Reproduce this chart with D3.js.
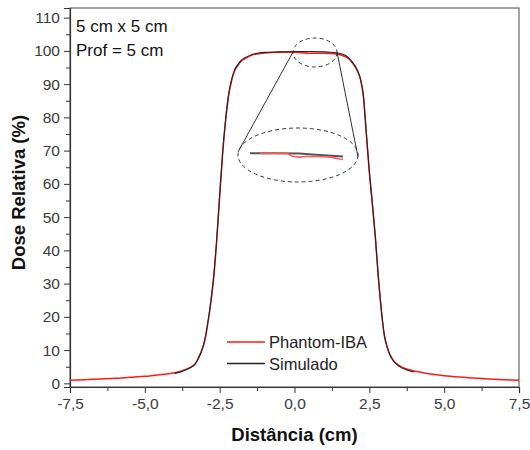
<!DOCTYPE html>
<html>
<head>
<meta charset="utf-8">
<script src="https://cdn.jsdelivr.net/npm/d3@7"></script>
<style>
  html, body { margin: 0; padding: 0; background: #fff; }
  svg { display: block; font-family: "Liberation Sans", Arial, sans-serif; }
</style>
</head>
<body>
<svg id="chart" width="530" height="450"></svg>
<script>
// Lateral dose profile, 5 cm x 5 cm field at 5 cm depth
const posMeasured = [-7.5, -7.0, -6.5, -6.0, -5.5, -5.0, -4.5, -4.0, -3.75, -3.5, -3.3, -3.2, -3.1, -3.0,
  -2.9, -2.8, -2.7, -2.6, -2.5, -2.4, -2.3, -2.2, -2.1, -2.0, -1.9, -1.8, -1.6, -1.4, -1.2, -1.0, -0.5,
  0.0, 0.5, 1.0, 1.2, 1.4, 1.6, 1.8, 1.9, 2.0, 2.1, 2.2, 2.3, 2.4, 2.5, 2.6, 2.7, 2.8, 2.9, 3.0,
  3.1, 3.2, 3.3, 3.5, 3.75, 4.0, 4.5, 5.0, 5.5, 6.0, 6.5, 7.0, 7.5];
const doseMeasured = [0.9, 1.1, 1.3, 1.5, 1.8, 2.1, 2.6, 3.2, 3.8, 4.7, 6.1, 7.8, 9.9, 12.8,
  17.8, 24.0, 31.8, 42.8, 56.3, 69.2, 79.2, 86.6, 91.1, 94.0, 95.5, 96.7, 97.9, 98.8, 99.15, 99.4, 99.6,
  99.6, 99.3, 99.3, 99.2, 99.0, 98.6, 97.7, 96.8, 95.6, 94.0, 91.5, 86.5, 75.0, 63.5, 54.0, 44.0, 32.0, 22.0, 14.5,
  10.8, 8.4, 6.9, 5.3, 4.3, 3.7, 2.9, 2.3, 1.9, 1.6, 1.3, 1.1, 0.9];

const posSimulated = [-4.0, -3.75, -3.5, -3.3, -3.2, -3.1, -3.0, -2.9, -2.8, -2.7, -2.6, -2.5, -2.4,
  -2.3, -2.2, -2.1, -2.0, -1.9, -1.8, -1.6, -1.4, -1.2, -1.0, -0.5, 0.0, 0.5, 1.0, 1.2, 1.4, 1.6, 1.8,
  1.9, 2.0, 2.1, 2.2, 2.3, 2.4, 2.5, 2.6, 2.7, 2.8, 2.9, 3.0, 3.1, 3.2, 3.3, 3.5, 3.75, 4.0];
const doseSimulated = [3.0, 3.6, 4.6, 6.0, 7.7, 9.8, 12.9, 18.0, 24.3, 32.2, 43.2, 56.6, 69.5,
  79.5, 86.9, 91.4, 94.3, 95.8, 97.0, 98.2, 99.0, 99.35, 99.55, 99.7, 99.8, 99.8, 99.7, 99.6, 99.4, 99.0, 98.0,
  97.0, 95.8, 94.2, 91.7, 86.7, 75.3, 63.8, 54.2, 44.2, 32.2, 22.2, 14.6, 10.8, 8.3, 6.8, 5.1, 4.0, 3.4];

// Magnified plateau (0 to 1.5 cm) shown in the detail ellipse
const zoomPosSim = [0.0, 0.4, 0.8, 1.0, 1.2, 1.5];
const zoomDoseSim = [99.8, 99.8, 99.78, 99.7, 99.62, 99.5];
const zoomPosMeas = [0.16, 0.3, 0.6, 0.68, 0.8, 0.9, 1.1, 1.3, 1.45, 1.5];
const zoomDoseMeas = [99.78, 99.78, 99.8, 99.52, 99.45, 99.5, 99.5, 99.45, 99.28, 99.24];

const xTicks = [-7.5, -5.0, -2.5, 0.0, 2.5, 5.0, 7.5];
const yTicks = [0, 10, 20, 30, 40, 50, 60, 70, 80, 90, 100, 110];
const seriesNames = ["Phantom-IBA", "Simulado"];
const seriesColors = ["#ff1a1a", "#222222"];
const annotation = ["5 cm x 5 cm", "Prof = 5 cm"];

const svg = d3.select("#chart");
const plotLeft = 70, plotRight = 519, plotTop = 8, plotBottom = 387;

const x = d3.scaleLinear().domain([-7.5, 7.5]).range([plotLeft, plotRight]);
const y = d3.scaleLinear().domain([-1.1, 112.9]).range([plotBottom, plotTop]);

const fmt = d => d3.format(".1f")(d).replace(".", ",").replace("−", "-");

// frame
svg.append("rect").attr("x", plotLeft).attr("y", plotTop)
  .attr("width", plotRight - plotLeft).attr("height", plotBottom - plotTop)
  .attr("fill", "none").attr("stroke", "#666").attr("stroke-width", 1.2);

// x axis
svg.append("g").attr("transform", `translate(0,${plotBottom})`)
  .call(d3.axisBottom(x).tickValues(xTicks).tickFormat(fmt).tickSize(6).tickPadding(5));
svg.append("g").attr("transform", `translate(0,${plotBottom})`)
  .call(d3.axisBottom(x).tickValues(d3.range(-6.25, 7.5, 2.5)).tickFormat("").tickSize(4))
  .select(".domain").remove();

// y axis
svg.append("g").attr("transform", `translate(${plotLeft},0)`)
  .call(d3.axisLeft(y).tickValues(yTicks).tickSize(6).tickPadding(4));
svg.append("g").attr("transform", `translate(${plotLeft},0)`)
  .call(d3.axisLeft(y).tickValues(d3.range(5, 110, 10)).tickFormat("").tickSize(4))
  .select(".domain").remove();

svg.selectAll(".domain").attr("stroke", "#333").attr("stroke-width", 1.2);
svg.selectAll(".tick line").attr("stroke", "#333").attr("stroke-width", 1);
svg.selectAll(".tick text").attr("fill", "#3a3a3a").style("font-size", "15.5px")
  .style("font-family", "Liberation Sans, Arial, sans-serif");

// axis titles
svg.append("text").attr("x", (plotLeft + plotRight) / 2).attr("y", 441)
  .attr("text-anchor", "middle").attr("font-weight", "bold").attr("font-size", 18.5)
  .attr("fill", "#111").text("Distância (cm)");
svg.append("text").attr("transform", `translate(25,${(plotTop + plotBottom) / 2 - 5}) rotate(-90)`)
  .attr("text-anchor", "middle").attr("font-weight", "bold").attr("font-size", 18.5)
  .attr("fill", "#111").text("Dose Relativa (%)");

// curves
const line = d3.line().x(d => x(d[0])).y(d => y(d[1])).curve(d3.curveMonotoneX);
const measured = posMeasured.map((p, i) => [p, doseMeasured[i]]);
const simulated = posSimulated.map((p, i) => [p, doseSimulated[i]]);

svg.append("path").datum(measured).attr("d", line)
  .attr("fill", "none").attr("stroke", seriesColors[0]).attr("stroke-width", 1.5);
svg.append("path").datum(simulated).attr("d", line)
  .attr("fill", "none").attr("stroke", seriesColors[1]).attr("stroke-width", 1.1);

// detail: small ellipse on plateau, large magnified ellipse, connecting lines
const detail = svg.append("g").attr("stroke", "#333").attr("fill", "none");
detail.append("ellipse").attr("cx", 315).attr("cy", 52.5).attr("rx", 22).attr("ry", 14.5)
  .attr("stroke-dasharray", "4,3").attr("stroke-width", 1);
detail.append("ellipse").attr("cx", 298).attr("cy", 155).attr("rx", 60).attr("ry", 27)
  .attr("stroke-dasharray", "4,3").attr("stroke-width", 1);
detail.append("line").attr("x1", 293).attr("y1", 52).attr("x2", 238).attr("y2", 152).attr("stroke-width", 1);
detail.append("line").attr("x1", 337).attr("y1", 52).attr("x2", 358).attr("y2", 157).attr("stroke-width", 1);

const zx = d3.scaleLinear().domain([0, 1.5]).range([250, 343]);
const zy = d3.scaleLinear().domain([99.0, 99.8]).range([162, 153.3]);
const zline = d3.line().x(d => zx(d[0])).y(d => zy(d[1]));
svg.append("path").datum(zoomPosSim.map((p, i) => [p, zoomDoseSim[i]])).attr("d", zline)
  .attr("fill", "none").attr("stroke", "#555").attr("stroke-width", 2);
svg.append("path").datum(zoomPosMeas.map((p, i) => [p, zoomDoseMeas[i]])).attr("d", zline)
  .attr("fill", "none").attr("stroke", "#ff5a5a").attr("stroke-width", 1.6);

// annotation
annotation.forEach((t, i) => {
  svg.append("text").attr("x", 76).attr("y", 31.5 + i * 24.5)
    .attr("font-size", 17).attr("fill", "#111").text(t);
});

// legend
seriesNames.forEach((name, i) => {
  const ly = 342 + i * 21.5;
  svg.append("line").attr("x1", 227).attr("x2", 265).attr("y1", ly).attr("y2", ly)
    .attr("stroke", seriesColors[i]).attr("stroke-width", 1.3);
  svg.append("text").attr("x", 269).attr("y", ly + 6).attr("font-size", 16.5)
    .attr("fill", "#222").text(name);
});
</script>
</body>
</html>
